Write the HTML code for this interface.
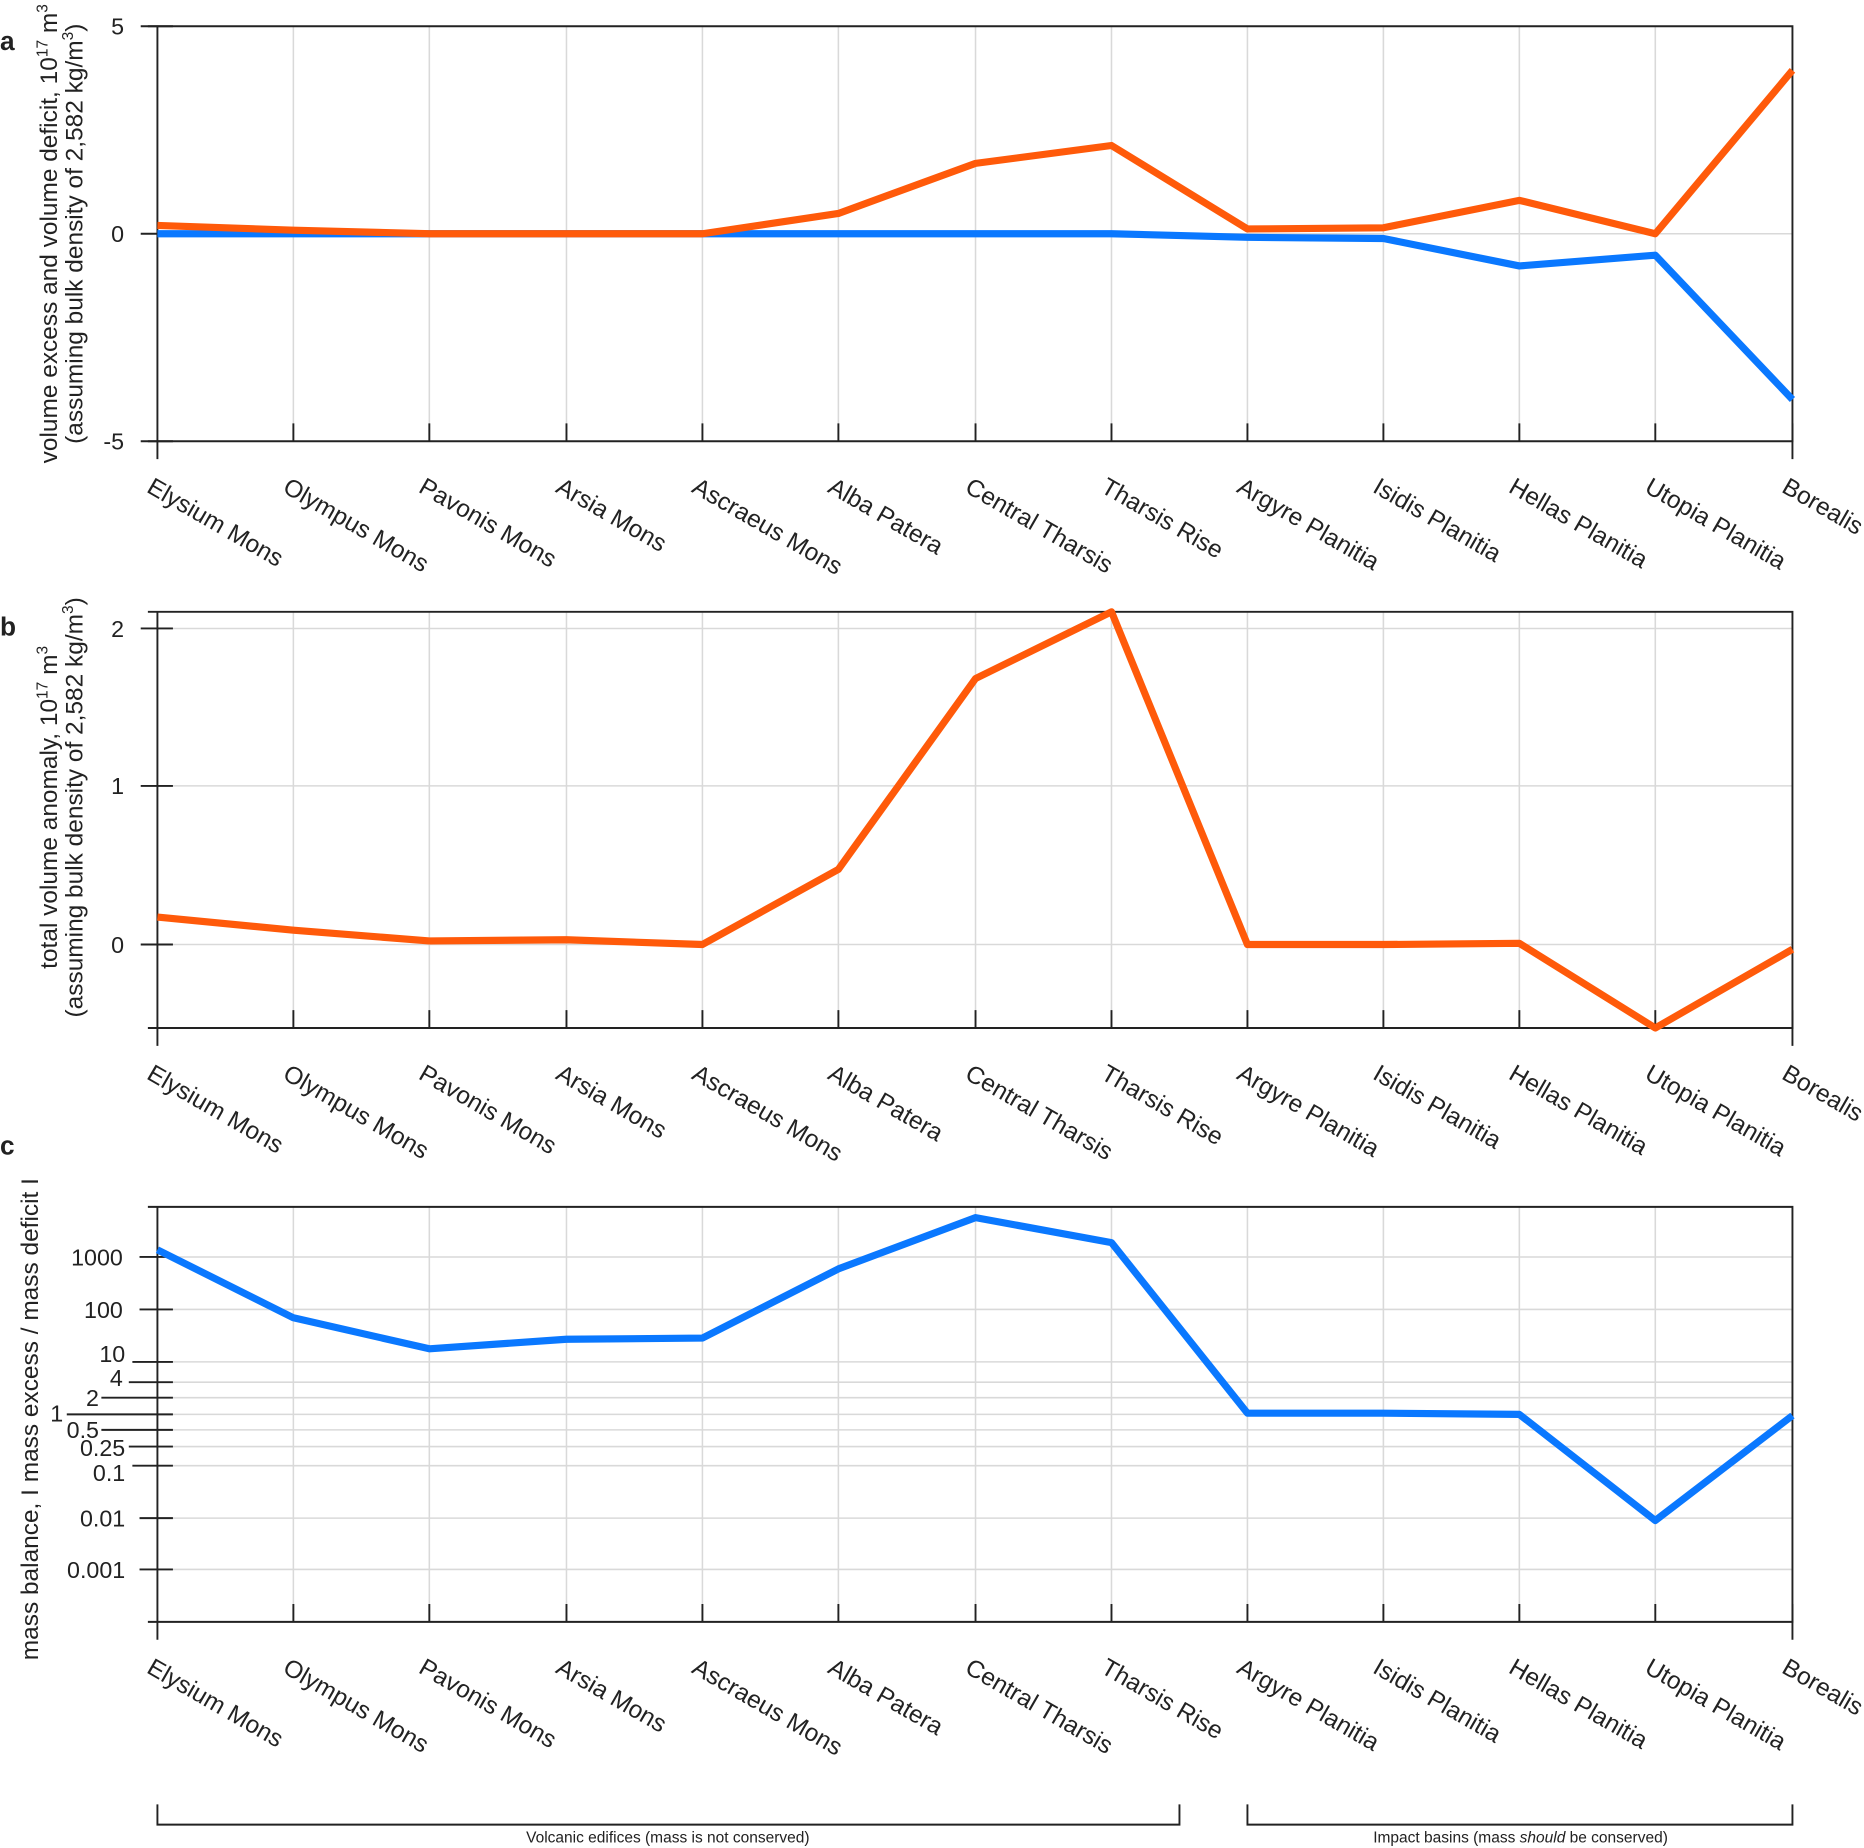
<!DOCTYPE html>
<html><head><meta charset="utf-8"><style>html,body{margin:0;padding:0;background:#fff}svg{display:block}text{font-family:"Liberation Sans",sans-serif;fill:#222}</style></head><body>
<svg width="1864" height="1848" viewBox="0 0 1563 1549.6" preserveAspectRatio="none" xmlns="http://www.w3.org/2000/svg">
<g id="grid" stroke="#d9d9d9" stroke-width="1.3">
<path d="M246 22V370M360 22V370M475 22V370M589 22V370M703 22V370M818 22V370M932 22V370M1046 22V370M1160 22V370M1274 22V370M1388 22V370"/>
<path d="M246 513V862M360 513V862M475 513V862M589 513V862M703 513V862M818 513V862M932 513V862M1046 513V862M1160 513V862M1274 513V862M1388 513V862"/>
<path d="M246 1012V1360M360 1012V1360M475 1012V1360M589 1012V1360M703 1012V1360M818 1012V1360M932 1012V1360M1046 1012V1360M1160 1012V1360M1274 1012V1360M1388 1012V1360"/>
<path d="M132 196H1503M132 527H1503M132 659H1503M132 792H1503"/>
<path d="M132 1054H1503M132 1098H1503M132 1142H1503M132 1159H1503M132 1172H1503M132 1186H1503M132 1199H1503M132 1213H1503M132 1229H1503M132 1273H1503M132 1316H1503"/>
</g>
<g stroke="#222" stroke-width="1.6" fill="none">
<path d="M124 22H1503V370H124M132 22V385"/>
<path d="M124 513H1503V862H124M132 513V877"/>
<path d="M124 1012H1503V1360H124M132 1012V1375"/>
<path d="M118 22H145M118 196H145M118 370H145"/>
<path d="M118 527H145M118 659H145M118 792H145"/>
<path d="M117 1054H145M117 1098H145M111 1142H145M108 1159H145M85 1172H145M56 1186H145M85 1199H145M108 1213H145M111 1229H145M117 1273H145M117 1316H145"/>
<path d="M246 355V370M360 355V370M475 355V370M589 355V370M703 355V370M818 355V370M932 355V370M1046 355V370M1160 355V370M1274 355V370M1388 355V370M1503 355V385"/>
<path d="M246 847V862M360 847V862M475 847V862M589 847V862M703 847V862M818 847V862M932 847V862M1046 847V862M1160 847V862M1274 847V862M1388 847V862M1503 847V877"/>
<path d="M246 1345V1360M360 1345V1360M475 1345V1360M589 1345V1360M703 1345V1360M818 1345V1360M932 1345V1360M1046 1345V1360M1160 1345V1360M1274 1345V1360M1388 1345V1360M1503 1345V1375"/>
<path d="M132 1513V1530H989V1513M1046 1513V1530H1503V1513"/>
</g>
<g fill="none" stroke-width="6" stroke-linejoin="round">
<polyline stroke="#0A78FF" points="132,196 246,196 360,196 475,196 589,196 703,196 818,196 932,196 1046,199 1160,200 1274,223 1388,214 1503,335"/>
<polyline stroke="#FF5A0A" points="132,189 246,193 360,196 475,196 589,196 703,179 818,137 932,122 1046,192 1160,191 1274,168 1388,196 1503,59"/>
<polyline stroke="#FF5A0A" points="132,769 246,780 360,789 475,788 589,792 703,729 818,569 932,513 1046,792 1160,792 1274,791 1388,862 1503,796"/>
<polyline stroke="#0A78FF" points="132,1048 246,1105 360,1131 475,1123 589,1122 703,1064 818,1021 932,1042 1046,1185 1160,1185 1274,1186 1388,1275 1503,1187"/>
</g>
<g font-size="19.5" text-anchor="end">
<text x="104" y="29">5</text><text x="104" y="203">0</text><text x="104" y="377">-5</text>
<text x="104" y="534">2</text><text x="104" y="666">1</text><text x="104" y="799">0</text>
<text x="103" y="1061">1000</text><text x="103" y="1105">100</text><text x="105" y="1142">10</text><text x="103" y="1162">4</text><text x="83" y="1179">2</text><text x="53" y="1192">1</text><text x="83" y="1206">0.5</text><text x="105" y="1221">0.25</text><text x="105" y="1242">0.1</text><text x="105" y="1280">0.01</text><text x="105" y="1323">0.001</text>
</g>
<g font-size="22" font-weight="bold"><text x="0" y="42">a</text><text x="0" y="533">b</text><text x="0" y="968">c</text></g>
<g font-size="20.5" text-anchor="middle">
<text transform="translate(48,196) rotate(-90)">volume excess and volume deficit, 10<tspan font-size="13" dy="-8">17</tspan><tspan dy="8"> m</tspan><tspan font-size="13" dy="-8">3</tspan></text>
<text transform="translate(69,196) rotate(-90)">(assuming bulk density of 2,582 kg/m<tspan font-size="13" dy="-8">3</tspan><tspan dy="8">)</tspan></text>
<text transform="translate(48,677) rotate(-90)">total volume anomaly, 10<tspan font-size="13" dy="-8">17</tspan><tspan dy="8"> m</tspan><tspan font-size="13" dy="-8">3</tspan></text>
<text transform="translate(69,677) rotate(-90)">(assuming bulk density of 2,582 kg/m<tspan font-size="13" dy="-8">3</tspan><tspan dy="8">)</tspan></text>
<text transform="translate(32,1190) rotate(-90)">mass balance, I mass excess / mass deficit I</text>
</g>
<g font-size="13" text-anchor="middle"><text x="560" y="1545">Volcanic edifices (mass is not conserved)</text><text x="1275" y="1545">Impact basins (mass <tspan font-style="italic">should</tspan> be conserved)</text></g>
<g font-size="20.5">
<g>
<text transform="translate(122,412) rotate(30)">Elysium Mons</text>
<text transform="translate(236,412) rotate(30)">Olympus Mons</text>
<text transform="translate(350,412) rotate(30)">Pavonis Mons</text>
<text transform="translate(465,412) rotate(30)">Arsia Mons</text>
<text transform="translate(579,412) rotate(30)">Ascraeus Mons</text>
<text transform="translate(693,412) rotate(30)">Alba Patera</text>
<text transform="translate(808,412) rotate(30)">Central Tharsis</text>
<text transform="translate(922,412) rotate(30)">Tharsis Rise</text>
<text transform="translate(1036,412) rotate(30)">Argyre Planitia</text>
<text transform="translate(1150,412) rotate(30)">Isidis Planitia</text>
<text transform="translate(1264,412) rotate(30)">Hellas Planitia</text>
<text transform="translate(1378,412) rotate(30)">Utopia Planitia</text>
<text transform="translate(1493,412) rotate(30)">Borealis</text>
</g>
<g transform="translate(0,492)">
<text transform="translate(122,412) rotate(30)">Elysium Mons</text>
<text transform="translate(236,412) rotate(30)">Olympus Mons</text>
<text transform="translate(350,412) rotate(30)">Pavonis Mons</text>
<text transform="translate(465,412) rotate(30)">Arsia Mons</text>
<text transform="translate(579,412) rotate(30)">Ascraeus Mons</text>
<text transform="translate(693,412) rotate(30)">Alba Patera</text>
<text transform="translate(808,412) rotate(30)">Central Tharsis</text>
<text transform="translate(922,412) rotate(30)">Tharsis Rise</text>
<text transform="translate(1036,412) rotate(30)">Argyre Planitia</text>
<text transform="translate(1150,412) rotate(30)">Isidis Planitia</text>
<text transform="translate(1264,412) rotate(30)">Hellas Planitia</text>
<text transform="translate(1378,412) rotate(30)">Utopia Planitia</text>
<text transform="translate(1493,412) rotate(30)">Borealis</text>
</g>
<g transform="translate(0,990)">
<text transform="translate(122,412) rotate(30)">Elysium Mons</text>
<text transform="translate(236,412) rotate(30)">Olympus Mons</text>
<text transform="translate(350,412) rotate(30)">Pavonis Mons</text>
<text transform="translate(465,412) rotate(30)">Arsia Mons</text>
<text transform="translate(579,412) rotate(30)">Ascraeus Mons</text>
<text transform="translate(693,412) rotate(30)">Alba Patera</text>
<text transform="translate(808,412) rotate(30)">Central Tharsis</text>
<text transform="translate(922,412) rotate(30)">Tharsis Rise</text>
<text transform="translate(1036,412) rotate(30)">Argyre Planitia</text>
<text transform="translate(1150,412) rotate(30)">Isidis Planitia</text>
<text transform="translate(1264,412) rotate(30)">Hellas Planitia</text>
<text transform="translate(1378,412) rotate(30)">Utopia Planitia</text>
<text transform="translate(1493,412) rotate(30)">Borealis</text>
</g>
</g>
</svg>
</body></html>
